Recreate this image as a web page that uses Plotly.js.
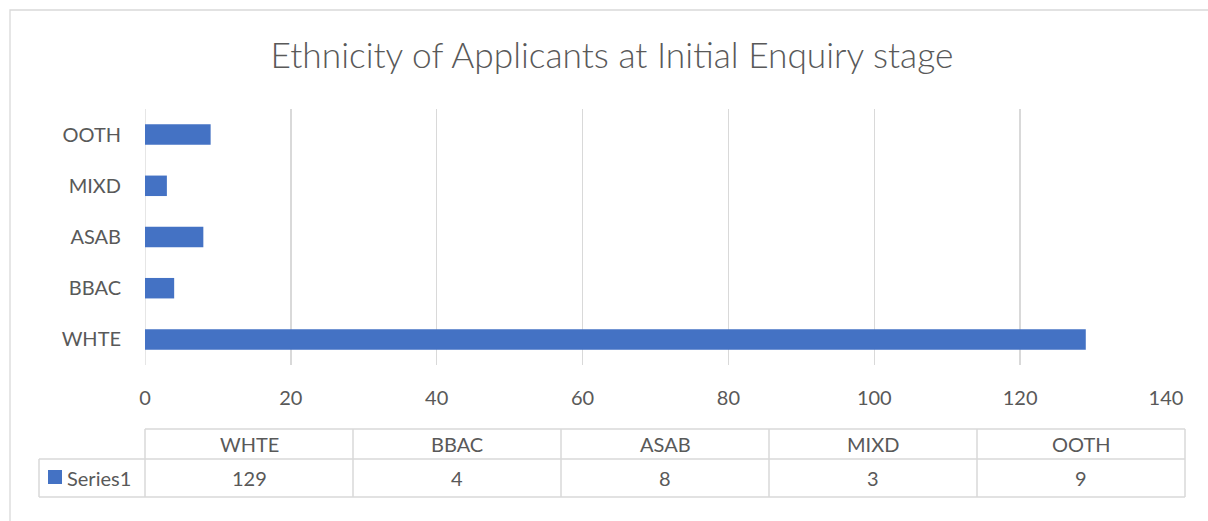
<!DOCTYPE html>
<html>
<head>
<meta charset="utf-8">
<script src="https://cdn.plot.ly/plotly-3.0.1.min.js"></script>
<style>html,body{margin:0;padding:0;background:#fff;}#chart{width:1208px;height:521px;}</style>
</head>
<body>
<div id="chart"></div>
<script>
const categories = ["WHTE", "BBAC", "ASAB", "MIXD", "OOTH"];
const values = [129, 4, 8, 3, 9];
const seriesName = "Series1";
const xTicks = [0, 20, 40, 60, 80, 100, 120, 140];

const W = 1208, H = 521;
const L = 145, R = 1166, T = 109, B = 365;
const px = v => (v - L) / (R - L);
const py = v => (B - v) / (B - T);
const FONT = "Lato, 'Open Sans', sans-serif";
const GRID = "#d9d9d9";
const TXT = "#595959";
const BAR = "#4472C4";
const FS = 20;

const shapes = [];
const annotations = [];
// outer chart border
shapes.push({type:"rect", xref:"paper", yref:"paper", x0:px(10), x1:px(1230), y0:py(10), y1:py(540), line:{color:GRID, width:1.3}, layer:"below"});

// data table
const tL = 145, colW = 208, tTop = 429, tMid = 459, tBot = 497, legL = 39;
const tR = tL + colW * categories.length;
const line = (x0,y0,x1,y1) => shapes.push({type:"line", xref:"paper", yref:"paper", x0:px(x0), x1:px(x1), y0:py(y0), y1:py(y1), line:{color:GRID, width:1.5}});
line(tL, tTop, tR, tTop);
line(legL, tMid, tR, tMid);
line(legL, tBot, tR, tBot);
line(legL, tMid, legL, tBot);
for (let i = 0; i <= categories.length; i++) {
  line(tL + i*colW, tTop, tL + i*colW, tBot);
}
categories.forEach((c, i) => {
  const cx = tL + (i + 0.5) * colW;
  annotations.push({xref:"paper", yref:"paper", x:px(cx), y:py((tTop+tMid)/2), text:c, showarrow:false, xanchor:"center", yanchor:"middle", font:{family:FONT, size:FS, color:TXT}});
  annotations.push({xref:"paper", yref:"paper", x:px(cx), y:py((tMid+tBot)/2), text:String(values[i]), showarrow:false, xanchor:"center", yanchor:"middle", font:{family:FONT, size:FS, color:TXT}});
});
// legend key in table
shapes.push({type:"rect", xref:"paper", yref:"paper", x0:px(48), x1:px(62), y0:py(470), y1:py(484), fillcolor:BAR, line:{width:0}});
annotations.push({xref:"paper", yref:"paper", x:px(65), y:py((tMid+tBot)/2), text:seriesName, showarrow:false, xanchor:"left", yanchor:"middle", font:{family:FONT, size:FS, color:TXT}});

const data = [{
  type:"bar", orientation:"h", x:values, y:categories, name:seriesName,
  marker:{color:BAR}, hoverinfo:"x+y"
}];

const layout = {
  width:W, height:H,
  margin:{l:L, r:W-R, t:T, b:H-B, pad:0},
  paper_bgcolor:"#fff", plot_bgcolor:"#fff",
  showlegend:false,
  bargap:0.6,
  title:{text:"Ethnicity of Applicants at Initial Enquiry stage", x:612/W, xref:"container", xanchor:"center", y:1-56/H, yref:"container", yanchor:"middle", font:{family:FONT, size:35.3, color:TXT, weight:300}},
  xaxis:{range:[0,140], tickvals:xTicks, ticktext:xTicks.map(String), showgrid:true, gridcolor:GRID, gridwidth:1.3, zeroline:false, showline:false, ticks:"", tickfont:{family:FONT, size:FS, color:TXT}, ticklabelstandoff:19, fixedrange:true},
  yaxis:{type:"category", categoryorder:"array", categoryarray:categories, showgrid:false, zeroline:false, showline:false, ticks:"", tickfont:{family:FONT, size:FS, color:TXT}, ticklabelstandoff:23, fixedrange:true},
  shapes:shapes,
  annotations:annotations
};
layout.shapes.push({type:"line", xref:"x", yref:"paper", x0:0, x1:0, y0:0, y1:1, line:{color:GRID, width:1.3}, layer:"below"});

Plotly.newPlot("chart", data, layout, {displayModeBar:false, staticPlot:true});
</script>
</body>
</html>
